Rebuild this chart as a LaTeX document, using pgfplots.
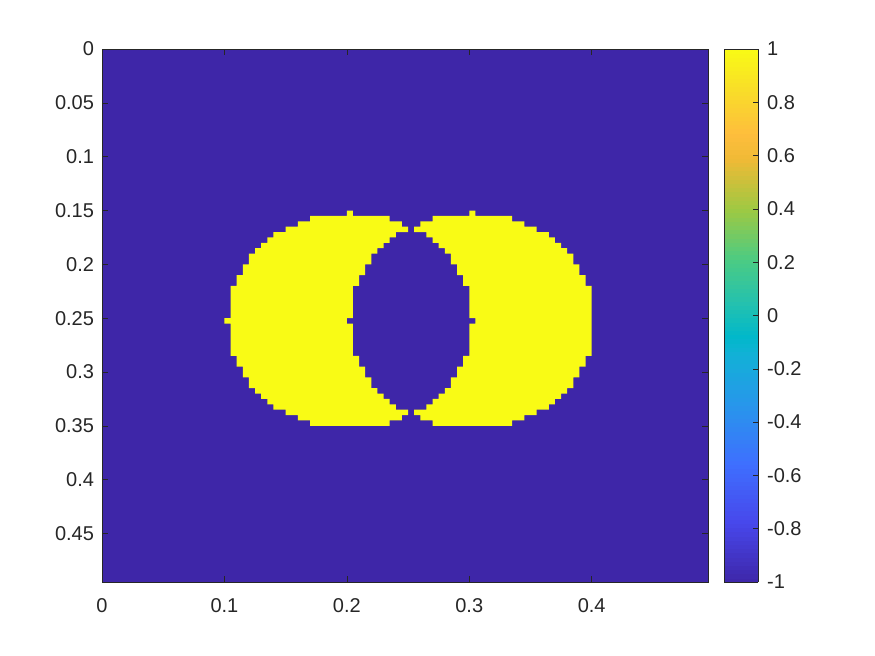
\documentclass[border=0pt]{standalone}
\usepackage{fontspec}
\setmainfont{Liberation Sans}
\usepackage{pgfplots}
\pgfplotsset{compat=1.18}

\definecolor{pblue}{rgb}{0.2422,0.1504,0.6603}
\definecolor{pyellow}{rgb}{0.9769,0.9839,0.0805}
\definecolor{axgray}{rgb}{0.15,0.15,0.15}

\pgfplotsset{
  colormap={parula}{
    rgb(0pt)=(0.2422,0.1504,0.6603);
    rgb(7pt)=(0.2803,0.2782,0.9221);
    rgb(14pt)=(0.2440,0.4358,0.9988);
    rgb(21pt)=(0.1540,0.5902,0.9218);
    rgb(27pt)=(0.0689,0.6948,0.8394);
    rgb(29pt)=(0.0036,0.7203,0.7917);
    rgb(33pt)=(0.1408,0.7584,0.6842);
    rgb(38pt)=(0.2906,0.7973,0.5188);
    rgb(44pt)=(0.6174,0.7876,0.2612);
    rgb(50pt)=(0.9393,0.7288,0.2100);
    rgb(53pt)=(0.9956,0.7434,0.2371);
    rgb(57pt)=(0.9786,0.8386,0.1766);
    rgb(63pt)=(0.9769,0.9839,0.0805)
  },
  every tick label/.append style={font=\fontsize{15}{18}\selectfont, text=axgray},
}

\begin{document}
\begin{tikzpicture}
\path[use as bounding box] (-76.5pt,-55.5pt) rectangle (579.75pt,436.5pt);
\begin{axis}[
  at={(0pt,0pt)}, anchor=south west,
  scale only axis, width=454.5pt, height=399.75pt,
  xmin=0, xmax=0.495, ymin=0, ymax=0.495,
  y dir=reverse,
  axis background/.style={fill=pblue},
  axis on top,
  axis line style={axgray},
  tick style={axgray, line width=0.4pt},
  tick align=inside,
  major tick length=4.5pt,
  xtick={0,0.1,0.2,0.3,0.4},
  xticklabels={0,0.1,0.2,0.3,0.4},
  ytick={0,0.05,0.1,0.15,0.2,0.25,0.3,0.35,0.4,0.45},
  yticklabels={0,0.05,0.1,0.15,0.2,0.25,0.3,0.35,0.4,0.45},
  xticklabel style={yshift=-9pt},
  yticklabel style={xshift=-2.5pt},
  colormap name=parula,
  point meta min=-1, point meta max=1,
  colorbar sampled,
  colorbar style={
    at={(parent axis.north east)}, anchor=north west,
    xshift=3.75pt,
    scale only axis, width=25.5pt, height=399.75pt,
    samples=128,
    axis line style={axgray},
    ytick={-1,-0.8,-0.6,-0.4,-0.2,0,0.2,0.4,0.6,0.8,1},
    yticklabels={-1,-0.8,-0.6,-0.4,-0.2,0,0.2,0.4,0.6,0.8,1},
    ytick pos=right,
    tick align=inside,
    major tick length=4pt,
    tick style={axgray, line width=0.4pt},
    yticklabel style={xshift=3pt},
  },
]
% left crescent
\addplot[fill=pyellow, draw=none, forget plot] coordinates {
(0.200,0.150) (0.200,0.155) (0.170,0.155) (0.170,0.160) (0.160,0.160) (0.160,0.165)
(0.150,0.165) (0.150,0.170) (0.140,0.170) (0.140,0.175) (0.135,0.175) (0.135,0.180)
(0.130,0.180) (0.130,0.185) (0.125,0.185) (0.125,0.190) (0.120,0.190) (0.120,0.200)
(0.115,0.200) (0.115,0.210) (0.110,0.210) (0.110,0.220) (0.105,0.220) (0.105,0.250)
(0.100,0.250) (0.100,0.255) (0.105,0.255) (0.105,0.285) (0.110,0.285) (0.110,0.295)
(0.115,0.295) (0.115,0.305) (0.120,0.305) (0.120,0.315) (0.125,0.315) (0.125,0.320)
(0.130,0.320) (0.130,0.325) (0.135,0.325) (0.135,0.330) (0.140,0.330) (0.140,0.335)
(0.150,0.335) (0.150,0.340) (0.160,0.340) (0.160,0.345) (0.170,0.345) (0.170,0.350)
(0.235,0.350) (0.235,0.345) (0.245,0.345) (0.245,0.340) (0.250,0.340) (0.250,0.335)
(0.240,0.335) (0.240,0.330) (0.235,0.330) (0.235,0.325) (0.230,0.325) (0.230,0.320)
(0.225,0.320) (0.225,0.315) (0.220,0.315) (0.220,0.305) (0.215,0.305) (0.215,0.295)
(0.210,0.295) (0.210,0.285) (0.205,0.285) (0.205,0.255) (0.200,0.255) (0.200,0.250)
(0.205,0.250) (0.205,0.220) (0.210,0.220) (0.210,0.210) (0.215,0.210) (0.215,0.200)
(0.220,0.200) (0.220,0.190) (0.225,0.190) (0.225,0.185) (0.230,0.185) (0.230,0.180)
(0.235,0.180) (0.235,0.175) (0.240,0.175) (0.240,0.170) (0.250,0.170) (0.250,0.165)
(0.245,0.165) (0.245,0.160) (0.235,0.160) (0.235,0.155) (0.205,0.155) (0.205,0.150)
} -- cycle;
% right crescent
\addplot[fill=pyellow, draw=none, forget plot] coordinates {
(0.300,0.150) (0.300,0.155) (0.270,0.155) (0.270,0.160) (0.260,0.160) (0.260,0.165)
(0.255,0.165) (0.255,0.170) (0.265,0.170) (0.265,0.175) (0.270,0.175) (0.270,0.180)
(0.275,0.180) (0.275,0.185) (0.280,0.185) (0.280,0.190) (0.285,0.190) (0.285,0.200)
(0.290,0.200) (0.290,0.210) (0.295,0.210) (0.295,0.220) (0.300,0.220) (0.300,0.250)
(0.305,0.250) (0.305,0.255) (0.300,0.255) (0.300,0.285) (0.295,0.285) (0.295,0.295)
(0.290,0.295) (0.290,0.305) (0.285,0.305) (0.285,0.315) (0.280,0.315) (0.280,0.320)
(0.275,0.320) (0.275,0.325) (0.270,0.325) (0.270,0.330) (0.265,0.330) (0.265,0.335)
(0.255,0.335) (0.255,0.340) (0.260,0.340) (0.260,0.345) (0.270,0.345) (0.270,0.350)
(0.335,0.350) (0.335,0.345) (0.345,0.345) (0.345,0.340) (0.355,0.340) (0.355,0.335)
(0.365,0.335) (0.365,0.330) (0.370,0.330) (0.370,0.325) (0.375,0.325) (0.375,0.320)
(0.380,0.320) (0.380,0.315) (0.385,0.315) (0.385,0.305) (0.390,0.305) (0.390,0.295)
(0.395,0.295) (0.395,0.285) (0.400,0.285) (0.400,0.220) (0.395,0.220) (0.395,0.210)
(0.390,0.210) (0.390,0.200) (0.385,0.200) (0.385,0.190) (0.380,0.190) (0.380,0.185)
(0.375,0.185) (0.375,0.180) (0.370,0.180) (0.370,0.175) (0.365,0.175) (0.365,0.170)
(0.355,0.170) (0.355,0.165) (0.345,0.165) (0.345,0.160) (0.335,0.160) (0.335,0.155)
(0.305,0.155) (0.305,0.150)
} -- cycle;
\end{axis}
\end{tikzpicture}
\end{document}
